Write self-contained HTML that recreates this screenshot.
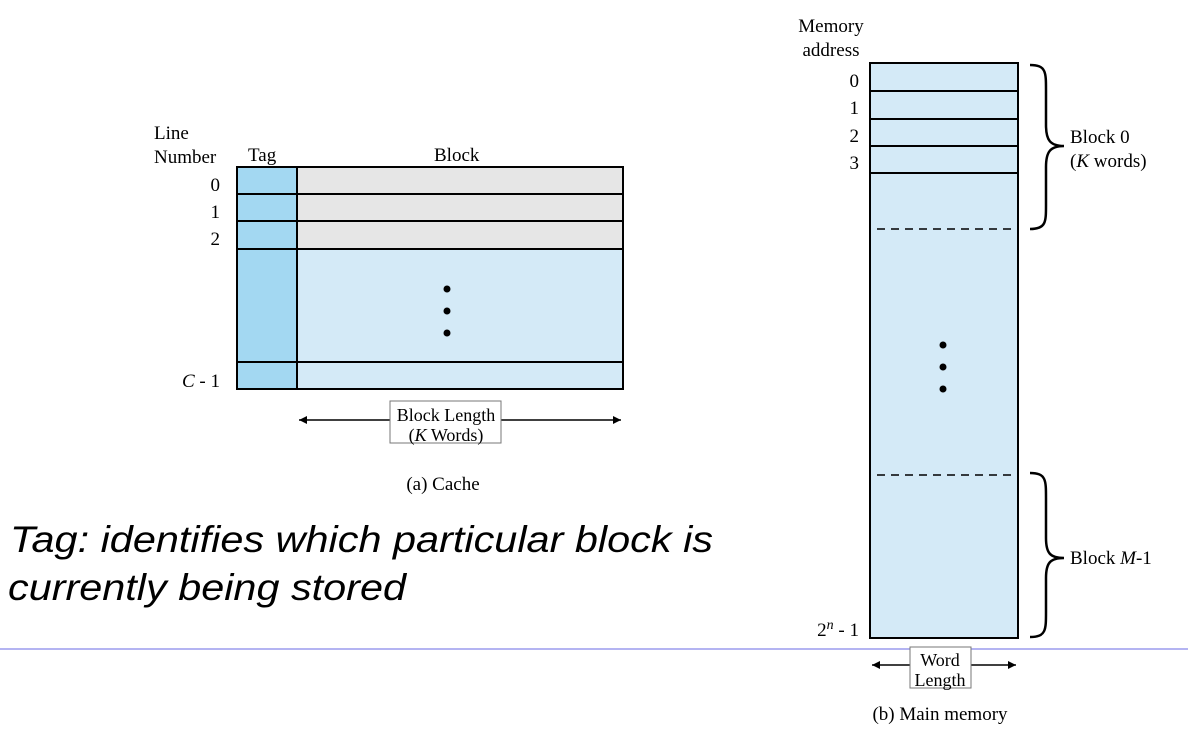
<!DOCTYPE html>
<html><head><meta charset="utf-8"><style>html,body{margin:0;padding:0;background:#fff}svg{display:block}</style></head>
<body>
<svg width="1188" height="750" viewBox="0 0 1188 750" xmlns="http://www.w3.org/2000/svg">
<defs>
<marker id="ah" viewBox="0 0 10 10" refX="10" refY="5" markerWidth="10" markerHeight="8" orient="auto-start-reverse" markerUnits="userSpaceOnUse"><path d="M0,0 L10,5 L0,10 z" fill="#000"/></marker>
</defs>
<g font-family="Liberation Serif, serif" font-size="19" fill="#000">
<!-- Cache -->
<rect x="297" y="167" width="326" height="82" fill="#e6e6e6"/>
<rect x="297" y="249" width="326" height="140" fill="#d4eaf7"/>
<rect x="237" y="167" width="60" height="222" fill="#a3d8f2"/>
<g stroke="#000" stroke-width="2" fill="none">
<rect x="237" y="167" width="386" height="222"/>
<line x1="297" y1="167" x2="297" y2="389"/>
<line x1="237" y1="194" x2="623" y2="194"/>
<line x1="237" y1="221" x2="623" y2="221"/>
<line x1="237" y1="249" x2="623" y2="249"/>
<line x1="237" y1="362" x2="623" y2="362"/>
</g>
<circle cx="447" cy="289" r="3.5"/><circle cx="447" cy="311" r="3.5"/><circle cx="447" cy="333" r="3.5"/>
<text x="154" y="139">Line</text>
<text x="154" y="163">Number</text>
<text x="248" y="161">Tag</text>
<text x="434" y="161">Block</text>
<text x="220" y="191" text-anchor="end">0</text>
<text x="220" y="218" text-anchor="end">1</text>
<text x="220" y="245" text-anchor="end">2</text>
<text x="220" y="387" text-anchor="end"><tspan font-style="italic">C</tspan> - 1</text>
<line x1="299" y1="420" x2="621" y2="420" stroke="#000" stroke-width="1.5" marker-start="url(#ah)" marker-end="url(#ah)"/>
<rect x="390" y="401" width="111" height="42" fill="#fff" stroke="#777" stroke-width="1"/>
<text x="446" y="421" text-anchor="middle" font-size="18">Block Length</text>
<text x="446" y="441" text-anchor="middle" font-size="18">(<tspan font-style="italic">K</tspan> Words)</text>
<text x="443" y="490" text-anchor="middle">(a) Cache</text>

<!-- Main memory -->
<rect x="870" y="63" width="148" height="575" fill="#d4eaf7" stroke="#000" stroke-width="2"/>
<g stroke="#000" stroke-width="2">
<line x1="870" y1="91" x2="1018" y2="91"/>
<line x1="870" y1="119" x2="1018" y2="119"/>
<line x1="870" y1="146" x2="1018" y2="146"/>
<line x1="870" y1="173" x2="1018" y2="173"/>
</g>
<g stroke="#000" stroke-width="1.5" stroke-dasharray="8,6">
<line x1="877" y1="229" x2="1017" y2="229"/>
<line x1="877" y1="475" x2="1017" y2="475"/>
</g>
<circle cx="943" cy="345" r="3.5"/><circle cx="943" cy="367" r="3.5"/><circle cx="943" cy="389" r="3.5"/>
<text x="831" y="32" text-anchor="middle">Memory</text>
<text x="831" y="56" text-anchor="middle">address</text>
<text x="859" y="87" text-anchor="end">0</text>
<text x="859" y="114" text-anchor="end">1</text>
<text x="859" y="142" text-anchor="end">2</text>
<text x="859" y="169" text-anchor="end">3</text>
<text x="859" y="636" text-anchor="end">2<tspan font-style="italic" font-size="14" dy="-7">n</tspan><tspan dy="7"> - 1</tspan></text>
<g stroke="#000" stroke-width="2.5" fill="none">
<path d="M1030,65 C1046,65 1046,72 1046,90 L1046,125 C1046,140 1050,146 1064,146 C1050,146 1046,152 1046,167 L1046,205 C1046,222 1046,229 1030,229"/>
<path d="M1030,473 C1046,473 1046,480 1046,498 L1046,538 C1046,553 1050,558 1064,558 C1050,558 1046,563 1046,578 L1046,612 C1046,630 1046,637 1030,637"/>
</g>
<text x="1070" y="143">Block 0</text>
<text x="1070" y="167">(<tspan font-style="italic">K</tspan> words)</text>
<text x="1070" y="564">Block <tspan font-style="italic">M</tspan>-1</text>
<line x1="0" y1="649" x2="1188" y2="649" stroke="#6a6ae6" stroke-width="1"/>
<line x1="872" y1="665" x2="1016" y2="665" stroke="#000" stroke-width="1.5" marker-start="url(#ah)" marker-end="url(#ah)"/>
<rect x="910" y="647" width="61" height="41" fill="#fff" stroke="#777" stroke-width="1"/>
<text x="940" y="666" text-anchor="middle" font-size="18">Word</text>
<text x="940" y="686" text-anchor="middle" font-size="18">Length</text>
<text x="940" y="720" text-anchor="middle">(b) Main memory</text>
</g>
<g font-family="Liberation Sans, Arial, sans-serif" font-style="italic" font-size="37" fill="#000">
<text x="10" y="552" textLength="703" lengthAdjust="spacingAndGlyphs">Tag: identifies which particular block is</text>
<text x="8" y="600" textLength="398" lengthAdjust="spacingAndGlyphs">currently being stored</text>
</g>
</svg>
</body></html>
